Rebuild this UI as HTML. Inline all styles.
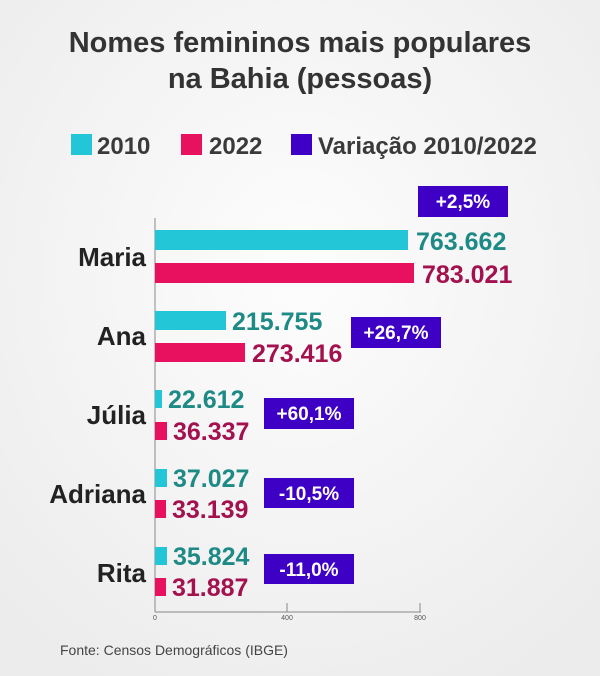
<!DOCTYPE html><html><head><style>body{margin:0;background:#f7f7f7}svg{display:block}</style></head><body>
<svg width="600" height="676" xmlns="http://www.w3.org/2000/svg" font-family="Liberation Sans, sans-serif">
<defs><radialGradient id="g" cx="50%" cy="40%" r="70%"><stop offset="0" stop-color="#fdfdfd"/><stop offset="1" stop-color="#ececec"/></radialGradient></defs>
<rect width="600" height="676" fill="url(#g)"/>
<g font-weight="bold" fill="#333" font-size="29" text-anchor="middle">
<text x="300" y="52">Nomes femininos mais populares</text>
<text x="300" y="88">na Bahia (pessoas)</text></g>
<g font-weight="bold" font-size="24" fill="#3a3a3a">
<rect x="71" y="134" width="21" height="21" fill="#22c6d6"/><text x="97" y="154">2010</text>
<rect x="181" y="134" width="21" height="21" fill="#e8115f"/><text x="209" y="154">2022</text>
<rect x="291" y="134" width="21" height="21" fill="#3d00c4"/><text x="318" y="154">Variação 2010/2022</text></g>
<g font-weight="bold" font-size="26" fill="#222" text-anchor="end">
<text x="146" y="266">Maria</text><text x="146" y="345">Ana</text><text x="146" y="424">Júlia</text><text x="146" y="503">Adriana</text><text x="146" y="582">Rita</text></g>
<line x1="155" y1="218" x2="155" y2="612" stroke="#888" stroke-width="1"/>
<line x1="155" y1="612" x2="421" y2="612" stroke="#888"/>
<line x1="287" y1="603" x2="287" y2="612" stroke="#888"/><line x1="420" y1="603" x2="420" y2="612" stroke="#888"/>
<g font-size="7" fill="#555" text-anchor="middle"><text x="155" y="620">0</text><text x="287" y="620">400</text><text x="420" y="620">800</text></g>
<g fill="#22c6d6"><rect x="155" y="230" width="253" height="20"/><rect x="155" y="311" width="71" height="19"/><rect x="155" y="390" width="7" height="18"/><rect x="155" y="469" width="12" height="18"/><rect x="155" y="547" width="12" height="18"/></g>
<g fill="#e8115f"><rect x="155" y="263" width="259" height="20"/><rect x="155" y="343" width="90" height="19"/><rect x="155" y="422" width="12" height="18"/><rect x="155" y="500" width="11" height="18"/><rect x="155" y="578" width="11" height="18"/></g>
<g font-weight="bold" font-size="25">
<g fill="#1e8a86"><text x="416" y="250">763.662</text><text x="232" y="330">215.755</text><text x="168" y="408">22.612</text><text x="173" y="487">37.027</text><text x="173" y="565">35.824</text></g>
<g fill="#a3124f"><text x="422" y="283">783.021</text><text x="252" y="362">273.416</text><text x="173" y="440">36.337</text><text x="172" y="518">33.139</text><text x="172" y="596">31.887</text></g></g>
<g fill="#3d00c4"><rect x="418" y="186" width="90" height="31"/><rect x="351" y="317" width="90" height="31"/><rect x="264" y="398" width="90" height="31"/><rect x="264" y="478" width="90" height="30"/><rect x="264" y="554" width="90" height="30"/></g>
<g font-weight="bold" font-size="19" fill="#fff" text-anchor="middle">
<text x="463" y="208">+2,5%</text><text x="396" y="339">+26,7%</text><text x="309" y="420">+60,1%</text><text x="309" y="500">-10,5%</text><text x="309" y="576">-11,0%</text></g>
<text x="60" y="655" font-size="14" fill="#444">Fonte: Censos Demográficos (IBGE)</text>
</svg></body></html>
